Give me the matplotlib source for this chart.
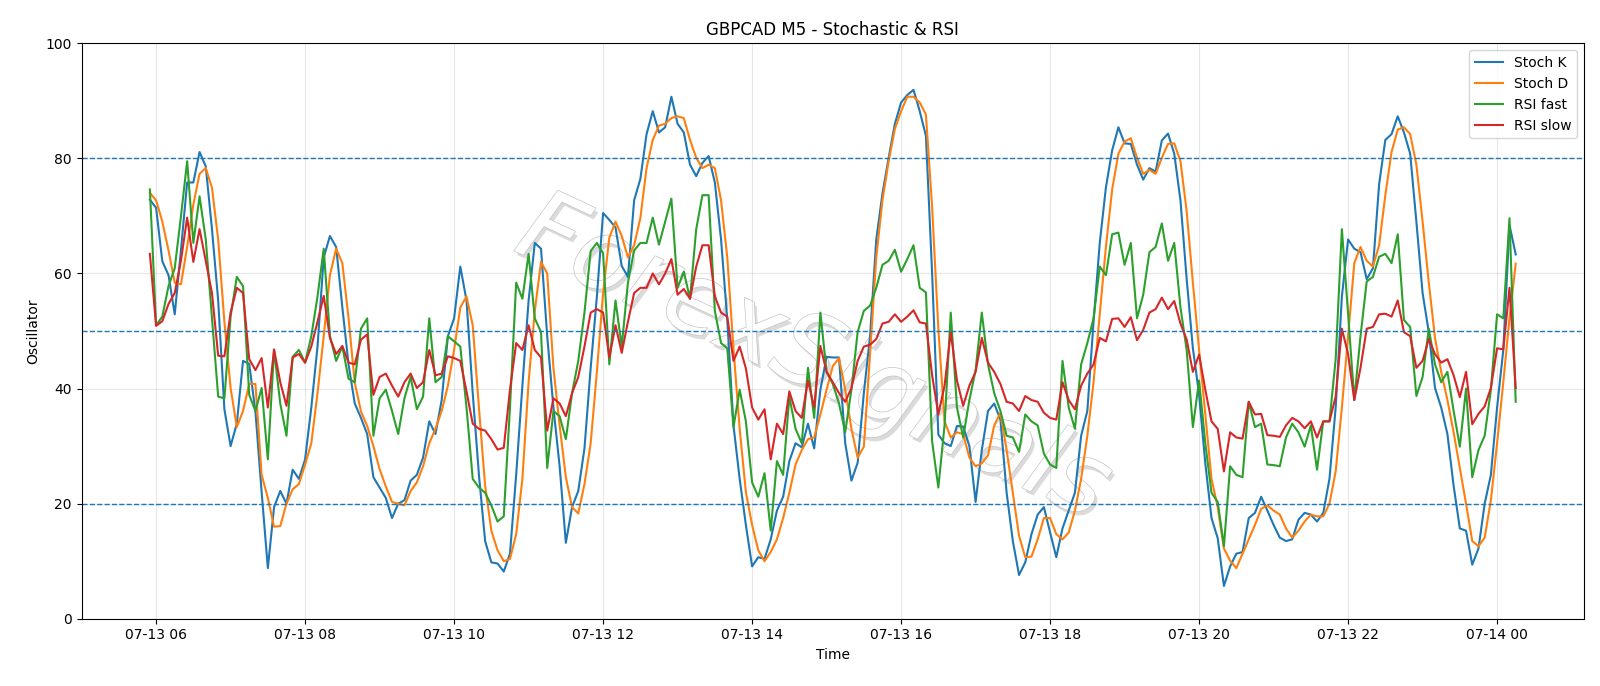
import matplotlib
matplotlib.use("Agg")
import matplotlib.pyplot as plt
import matplotlib.dates as mdates
import matplotlib.patheffects as pe
import pandas as pd

# M5 bars, 07-13 05:55 .. 07-14 00:15
start = "2023-07-13 05:55"

stoch_k = [72.8, 71.4, 62.1, 59.7, 52.9, 64, 75.8, 75.8, 81.1, 78.6,
           67.7, 55.3, 36.4, 30, 33.9, 44.8, 44.3, 36, 22, 8.8,
           19.4, 22.2, 20, 25.9, 24.3, 27.7, 36.7, 47.3, 62.8, 66.5,
           64.6, 54.1, 44.2, 37.4, 34.9, 32.1, 24.6, 22.8, 21, 17.5,
           20, 20.6, 24, 25, 28, 34.3, 32.1, 38, 49.1, 52.2,
           61.2, 55.3, 39.2, 25, 13.5, 9.8, 9.6, 8.2, 11.3, 25,
           40.5, 55.3, 65.3, 64.3, 49.1, 36.7, 26.5, 13.2, 19.4, 22.2,
           29.6, 43.6, 56, 70.5, 69.3, 68, 61.3, 59.4, 72.7, 76.4,
           84.2, 88.2, 84.5, 85.4, 90.7, 86, 84.5, 78.9, 76.9, 79.2,
           80.4, 75.8, 65.9, 52, 33.6, 24.3, 16.3, 9.1, 10.7, 10.4,
           13.8, 18.8, 21.2, 27.4, 30.5, 29.8, 33.9, 29.6, 39.8, 45.5,
           45.4, 45.4, 30.5, 24, 27.1, 39.2, 49.1, 65.9, 73.9, 80.1,
           86, 89.7, 91, 91.9, 88.2, 83.9, 60, 32, 30.5, 30,
           33.5, 33.4, 30, 20.3, 29.3, 36.1, 37.4, 34.6, 21.9, 13.5,
           7.6, 9.8, 14.7, 18.1, 19.4, 15, 10.7, 15.7, 18.8, 21.9,
           31.8, 36.1, 51.6, 65.3, 75, 81.4, 85.4, 82.6, 82.5, 78.9,
           76.3, 78.3, 77.7, 83.1, 84.3, 80.8, 72.7, 59, 47, 39,
           27, 17.5, 14, 5.7, 9.1, 11.3, 11.6, 17.5, 18.4, 21.2,
           18.8, 16.3, 14.1, 13.5, 13.8, 17.2, 18.4, 18.1, 16.9, 18.4,
           24.3, 36.7, 56, 65.9, 64.3, 63.7, 59, 60.9, 75.5, 83.2,
           84.2, 87.3, 84.5, 80.8, 69, 56.6, 49.8, 40.1, 36.7, 32.1,
           23.1, 15.7, 15.3, 9.4, 12.2, 20, 25, 36.7, 46.7, 68.4,
           63.3]

stoch_d = [74, 72.7, 69, 64, 58.4, 58.1, 64.6, 72, 77.3, 78.3,
           74.9, 65.9, 51.6, 40.1, 33.3, 36.1, 40.8, 40.8, 25, 21,
           16, 16.1, 20, 22.5, 23.4, 26.8, 30.5, 39.2, 49.1, 59.7,
           64.3, 61.8, 52.2, 41, 36, 33.5, 30, 26, 23, 20.3,
           20, 19.7, 22.2, 23.7, 26.5, 30.5, 33, 36.1, 40.5, 46.7,
           54.1, 56, 51, 36.7, 23.1, 15.3, 11.9, 10, 10.4, 14.7,
           24.3, 41.1, 53.5, 62, 60, 43.6, 33.6, 24.6, 19.4, 18.3,
           23.4, 30.5, 42.9, 56.6, 66.2, 69, 66.5, 62.8, 64.9, 69.6,
           78.3, 83.2, 85.7, 86, 87, 87.3, 87, 83.2, 80.1, 78.3,
           78.9, 78.3, 72.7, 62.8, 47, 33, 22, 16.3, 11.9, 10,
           11.6, 13.8, 17.5, 21.9, 26.8, 29.3, 31.2, 31.5, 35.5, 39.8,
           43.9, 45.3, 39.8, 33, 28, 29.9, 46, 62.8, 72.7, 79.5,
           85.1, 88.2, 90.7, 90.7, 89.7, 87.6, 71.5, 50.4, 34.3, 31.5,
           32.4, 32.1, 28, 26.5, 27, 28.4, 33.6, 35.8, 29.3, 21.9,
           14.4, 10.7, 10.8, 13.8, 17.5, 17.5, 14.7, 13.8, 15, 18.8,
           24.3, 31.8, 41.1, 52.9, 64.7, 74.6, 80.8, 82.9, 83.5, 80.1,
           77.3, 78, 77.3, 80.1, 82.5, 82.6, 79.5, 70.8, 58.4, 46.7,
           35.5, 24.3, 19.4, 12.2, 10.1, 8.8, 11.3, 13.8, 16.3, 19.1,
           19.7, 18.8, 18.1, 15.7, 14.1, 15.3, 16.9, 18.1, 17.8, 17.8,
           20, 25.6, 36.7, 49.1, 61.8, 64.6, 62.2, 61.2, 64.9, 73.6,
           81.1, 85, 85.4, 84.2, 78.9, 69, 58.4, 48.8, 42.9, 38,
           32.4, 26.2, 20, 13.5, 12.6, 14.1, 20.6, 30.5, 41.1, 52.2,
           61.7]

rsi_fast = [74.6, 51, 52.5, 57.8, 60.9, 69.9, 79.5, 65.3, 73.4, 65.9,
            52.2, 38.6, 38.3, 52.5, 59.4, 57.8, 38.9, 36.1, 40.1, 27.7,
            46.7, 37.4, 31.8, 45.5, 46.7, 44.5, 49.1, 56, 64.3, 49.1,
            44.8, 47.3, 41.7, 41.1, 50.4, 52.2, 31.8, 38.3, 39.8, 36.1,
            32.1, 38.3, 42, 36.4, 38.6, 52.2, 41.1, 42, 49.1, 48.2,
            47.3, 36.7, 24.3, 22.8, 21.9, 19.7, 16.9, 17.8, 36.7, 58.4,
            55.6, 63.4, 52.2, 49.8, 26.2, 36.1, 35.2, 31.2, 39.2, 44.8,
            53.2, 63.9, 65.3, 63.5, 44.2, 55.3, 47.3, 58.4, 64, 65.3,
            65.3, 69.7, 65, 69, 73, 57.5, 60.3, 55.6, 67.7, 73.6,
            73.6, 53.5, 47.9, 47, 33.3, 39.8, 34.3, 23.7, 21.2, 25.3,
            15.3, 27.4, 25, 38.6, 33, 30.5, 43.6, 34.9, 53.2, 42.9,
            40.8, 37.4, 32.4, 39.8, 49.8, 53.5, 54.4, 57.5, 61.5, 62.2,
            64.1, 60.3, 62.5, 64.9, 57.5, 56.7, 30.8, 22.8, 33.6, 53.2,
            36.7, 31.5, 38, 43.2, 53.2, 44.2, 39.2, 36.1, 31.8, 31.5,
            29, 35.5, 34.3, 33.6, 28.7, 26.8, 26.2, 44.8, 36.7, 33,
            44.2, 47.9, 52.2, 61.2, 59.7, 66.8, 67.1, 61.5, 65.3, 52.2,
            56.3, 63.7, 64.6, 68.7, 62.2, 65.3, 54.1, 46.7, 33.3, 41.4,
            30.5, 21.9, 20.3, 12.6, 26.5, 25, 24.6, 37.7, 33.3, 33.9,
            26.8, 26.7, 26.5, 31.5, 33.9, 32.4, 29.9, 33.6, 25.9, 34.3,
            34.3, 45.1, 67.7, 53, 38, 49.1, 58.6, 59.4, 62.9, 63.4,
            61.8, 66.8, 51.9, 50.7, 38.7, 42, 50.4, 44.2, 41.1, 42.9,
            36.1, 29.9, 40, 24.6, 29.3, 31.8, 39.8, 52.9, 52.2, 69.6,
            37.7]

rsi_slow = [63.4, 50.9, 51.7, 54.7, 56.6, 62.2, 69.7, 62, 67.7, 62.2,
            56.6, 45.7, 45.6, 53.2, 57.5, 56.6, 45.1, 43.2, 45.3, 36.7,
            46.8, 41.1, 37, 45.4, 46, 44.5, 47.3, 51.6, 56.1, 48.8,
            46, 47.4, 44.5, 44.2, 48.5, 49.4, 38.9, 42, 42.6, 40.5,
            38.6, 41.1, 42.6, 40.1, 41.1, 46.7, 42.3, 42.6, 45.6, 45.3,
            44.8, 39.5, 33.9, 33, 32.7, 31.2, 29.4, 29.7, 39.8, 47.9,
            46.7, 51, 46.7, 45.4, 32.7, 38.3, 37.4, 35.2, 39.2, 42,
            47.3, 53.2, 53.8, 53.2, 45.4, 51, 46.2, 51.6, 56.6, 57.5,
            57.5, 60, 58.1, 60, 62.5, 56.3, 57.3, 55.6, 61.2, 64.9,
            64.9, 56, 53.2, 52.5, 44.8, 47.3, 43.5, 36.7, 34.6, 36.4,
            27.7, 33.9, 32.1, 39.5, 36.1, 34.9, 41.4, 36.7, 47.4, 42.9,
            41.1, 39.2, 37.7, 40.1, 44.8, 47.3, 47.6, 48.6, 51.3, 51.6,
            52.9, 51.6, 52.5, 53.6, 51.5, 51.3, 42.3, 35.5, 40.5, 49.8,
            41.4, 37, 40.5, 42.9, 48.8, 44.5, 42.9, 40.8, 37.7, 37.4,
            36.1, 38.7, 38, 37.7, 35.8, 34.9, 34.6, 41.1, 38, 36.4,
            40.5, 42.6, 44.2, 48.8, 48.2, 52.1, 52.2, 50.7, 52.4, 48.4,
            50.2, 53.2, 53.8, 55.8, 53.8, 55.2, 51.3, 48.5, 42.9, 45.9,
            39.8, 34.3, 33, 25.6, 32.4, 31.5, 31.3, 37.7, 35.5, 35.6,
            31.9, 31.8, 31.6, 33.6, 34.9, 34.3, 33.1, 34.3, 31.5, 34.3,
            34.3, 38.6, 50.4, 46, 38, 43.6, 50.4, 50.7, 52.9, 53,
            52.5, 55.3, 49.8, 49.1, 43.6, 44.8, 48.6, 46, 44.5, 45.1,
            42.3, 38.5, 42.9, 33.8, 35.6, 36.9, 40.1, 47, 46.8, 57.5,
            40.1]

levels = [80, 50, 20]

times = pd.date_range(start, periods=len(stoch_k), freq="5min")

fig, ax = plt.subplots(figsize=(16, 6.86), dpi=100)
fig.subplots_adjust(left=0.051, right=0.990, top=0.937, bottom=0.098)

ax.plot(times, stoch_k, label="Stoch K", lw=1.5)
ax.plot(times, stoch_d, label="Stoch D", lw=1.5)
ax.plot(times, rsi_fast, label="RSI fast", lw=1.5)
ax.plot(times, rsi_slow, label="RSI slow", lw=1.5)

for lv in levels:
    ax.axhline(lv, color="C0", ls="--", lw=1)

ax.set_ylim(0, 100)
ax.grid(True, alpha=0.3)
ax.xaxis.set_major_locator(mdates.HourLocator(interval=2))
ax.xaxis.set_major_formatter(mdates.DateFormatter("%m-%d %H"))
ax.set_title("GBPCAD M5 - Stochastic & RSI")
ax.set_xlabel("Time")
ax.set_ylabel("Oscillator")
ax.legend(loc="upper right")

# watermark
ax.text(0.487, 0.45, "ForexSignals", transform=ax.transAxes, fontsize=72,
        style="italic", color="white", rotation=-25,
        ha="center", va="center", zorder=0,
        path_effects=[pe.withSimplePatchShadow(offset=(2, -3), shadow_rgbFace="#999999", alpha=0.35),
                      pe.Stroke(linewidth=1.0, foreground="#c4c4c4"),
                      pe.Normal()])

fig.savefig("out.png", dpi=100)
